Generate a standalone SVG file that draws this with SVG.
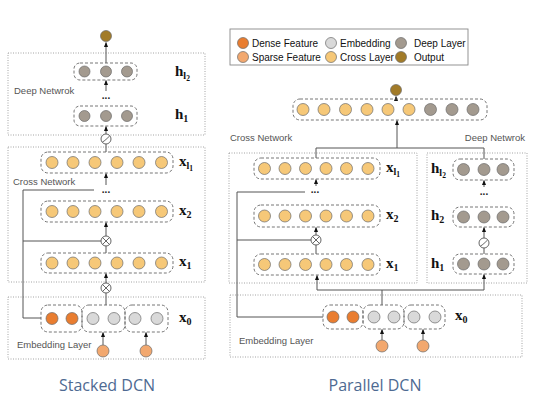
<svg xmlns="http://www.w3.org/2000/svg" width="533" height="401" viewBox="0 0 533 401">
<defs>
<style>
.dot{fill:none;stroke:#9a9a9a;stroke-width:0.9;stroke-dasharray:1 1.5}
.dash{fill:none;stroke:#666;stroke-width:0.9;stroke-dasharray:3 2}
.ln{fill:none;stroke:#555;stroke-width:1}
.ar{fill:none;stroke:#555;stroke-width:1;marker-end:url(#ah)}
.c{stroke:#6a6a6a;stroke-width:0.7}
.dense{fill:#E97D30}
.sparse{fill:#F2A86F}
.emb{fill:#D9D9D9}
.cross{fill:#F6C878}
.deep{fill:#A39A8F}
.out{fill:#A27B28}
.lbl{font-family:"Liberation Sans",Arial,sans-serif;font-size:9.5px;fill:#555}
.leg{font-family:"Liberation Sans",Arial,sans-serif;font-size:10px;fill:#111}
.m{font-family:"Liberation Serif","Times New Roman",serif;font-weight:bold;font-size:15px;fill:#111}
.s{font-size:10px}
.ss{font-size:7.5px}
.ttl{font-family:"Open Sans","Noto Sans",sans-serif;font-size:16px;fill:#4E6A92;text-anchor:middle}
.dots{font-family:"Liberation Sans",Arial,sans-serif;font-size:10px;fill:#222;text-anchor:middle;font-weight:bold}
.op{fill:#fff;stroke:#555;stroke-width:0.9}
</style>
<marker id="ah" viewBox="0 0 6 6" refX="5.5" refY="3" markerWidth="5" markerHeight="5" orient="auto" markerUnits="userSpaceOnUse">
<path d="M0,0.5 L6,3 L0,5.5 Z" fill="#111"/>
</marker>
<g id="otimes"><circle class="op" r="5"/><path d="M-3.5,-3.5 L3.5,3.5 M3.5,-3.5 L-3.5,3.5" stroke="#555" stroke-width="0.9"/></g>
<g id="relu"><circle class="op" r="5"/><path d="M-3.6,3 C-1.5,2.2 1.5,-1 3.6,-3" fill="none" stroke="#555" stroke-width="0.9"/></g>
</defs>

<!-- ===== Stacked DCN ===== -->
<g id="stacked-frames">
<rect class="dot" x="8" y="53" width="197" height="82"/>
<rect class="dot" x="8" y="147" width="197" height="135"/>
<rect class="dot" x="8" y="297" width="197" height="62"/>
<text class="lbl" x="14" y="94">Deep Netwrok</text>
<text class="lbl" x="13" y="185">Cross Network</text>
<text class="lbl" x="17" y="348">Embedding Layer</text>
<text class="ttl" x="107" y="391">Stacked DCN</text>
</g>

<g id="s-connectors">
<line class="ar" x1="106" y1="63" x2="106" y2="42.5"/>
<line class="ar" x1="106" y1="91" x2="106" y2="80.5"/>
<line class="ar" x1="106" y1="134" x2="106" y2="126.5"/>
<line class="ln" x1="106" y1="152" x2="106" y2="144"/>
<line class="ar" x1="106" y1="185" x2="106" y2="173.5"/>
<polyline class="ln" points="94,190 23,190 23,318 41,318"/>
<line class="ln" x1="23" y1="241" x2="101" y2="241"/>
<line class="ar" x1="106" y1="236" x2="106" y2="222.5"/>
<line class="ln" x1="106" y1="253" x2="106" y2="246"/>
<line class="ar" x1="106" y1="283" x2="106" y2="273.5"/>
<line class="ln" x1="106" y1="305" x2="106" y2="293"/>
<line class="ar" x1="103" y1="345" x2="103" y2="332.5"/>
<line class="ar" x1="146" y1="345" x2="146" y2="332.5"/>
<use href="#relu" x="106" y="139"/>
<use href="#otimes" x="106" y="241"/>
<use href="#otimes" x="106" y="288"/>
</g>

<g id="s-output"><circle class="c out" cx="106" cy="36" r="5.5"/></g>

<g id="s-hl2">
<rect class="dash" x="74" y="63" width="63" height="17" rx="6"/>
<circle class="c deep" cx="84.5" cy="71.5" r="5.5"/><circle class="c deep" cx="106" cy="71.5" r="5.5"/><circle class="c deep" cx="127" cy="71.5" r="5.5"/>
<text class="m" x="175" y="76">h<tspan class="s" dy="3">l</tspan><tspan class="ss" dy="2">2</tspan></text>
</g>
<text class="dots" x="106" y="99">...</text>
<g id="s-h1">
<rect class="dash" x="74" y="106" width="63" height="20" rx="6"/>
<circle class="c deep" cx="84.5" cy="116" r="5.5"/><circle class="c deep" cx="106" cy="116" r="5.5"/><circle class="c deep" cx="127" cy="116" r="5.5"/>
<text class="m" x="175" y="119">h<tspan class="s" dy="3">1</tspan></text>
</g>

<g id="s-xl1">
<rect class="dash" x="41" y="152" width="132" height="21" rx="7"/>
<circle class="c cross" cx="52" cy="162.5" r="6"/><circle class="c cross" cx="73" cy="162.5" r="6"/><circle class="c cross" cx="95" cy="162.5" r="6"/><circle class="c cross" cx="117" cy="162.5" r="6"/><circle class="c cross" cx="139" cy="162.5" r="6"/><circle class="c cross" cx="161.5" cy="162.5" r="6"/>
<text class="m" x="179" y="166">x<tspan class="s" dy="3">l</tspan><tspan class="ss" dy="2">1</tspan></text>
</g>
<text class="dots" x="106" y="193">...</text>
<g id="s-x2">
<rect class="dash" x="41" y="201" width="132" height="21" rx="7"/>
<circle class="c cross" cx="52" cy="211.5" r="6"/><circle class="c cross" cx="73" cy="211.5" r="6"/><circle class="c cross" cx="95" cy="211.5" r="6"/><circle class="c cross" cx="117" cy="211.5" r="6"/><circle class="c cross" cx="139" cy="211.5" r="6"/><circle class="c cross" cx="161.5" cy="211.5" r="6"/>
<text class="m" x="179" y="215">x<tspan class="s" dy="3">2</tspan></text>
</g>
<g id="s-x1">
<rect class="dash" x="41" y="253" width="132" height="20" rx="7"/>
<circle class="c cross" cx="52" cy="263" r="6"/><circle class="c cross" cx="73" cy="263" r="6"/><circle class="c cross" cx="95" cy="263" r="6"/><circle class="c cross" cx="117" cy="263" r="6"/><circle class="c cross" cx="139" cy="263" r="6"/><circle class="c cross" cx="161.5" cy="263" r="6"/>
<text class="m" x="179" y="266">x<tspan class="s" dy="3">1</tspan></text>
</g>

<g id="s-x0">
<rect class="dash" x="41" y="305" width="41" height="27" rx="7"/>
<rect class="dash" x="82" y="305" width="43" height="27" rx="7"/>
<rect class="dash" x="125" y="305" width="43" height="27" rx="7"/>
<circle class="c dense" cx="52" cy="318.5" r="6"/><circle class="c dense" cx="72" cy="318.5" r="6"/>
<circle class="c emb" cx="93" cy="318.5" r="6"/><circle class="c emb" cx="114" cy="318.5" r="6"/>
<circle class="c emb" cx="135" cy="318.5" r="6"/><circle class="c emb" cx="157" cy="318.5" r="6"/>
<text class="m" x="179" y="322">x<tspan class="s" dy="3">0</tspan></text>
</g>
<g id="s-sparse">
<circle class="c sparse" cx="103" cy="351" r="6"/><circle class="c sparse" cx="146" cy="351" r="6"/>
</g>

<!-- ===== Legend ===== -->
<g id="legend">
<rect x="230" y="29" width="238" height="36" fill="#fff" stroke="#888" stroke-width="0.9"/>
<circle class="c dense" cx="243" cy="43" r="5.5"/><text class="leg" x="252" y="46.5">Dense Feature</text>
<circle class="c emb" cx="331" cy="43" r="5.5"/><text class="leg" x="340" y="46.5">Embedding</text>
<circle class="c deep" cx="401" cy="43" r="5.5"/><text class="leg" x="414" y="46.5">Deep Layer</text>
<circle class="c sparse" cx="243" cy="57" r="5.5"/><text class="leg" x="252" y="60.5">Sparse Feature</text>
<circle class="c cross" cx="331" cy="57" r="5.5"/><text class="leg" x="340" y="60.5">Cross Layer</text>
<circle class="c out" cx="401" cy="57" r="5.5"/><text class="leg" x="414" y="60.5">Output</text>
</g>

<!-- ===== Parallel DCN ===== -->
<g id="parallel-frames">
<rect class="dot" x="229" y="153" width="188" height="130"/>
<rect class="dot" x="427" y="153" width="100" height="130"/>
<rect class="dot" x="230" y="295" width="292" height="62"/>
<text class="lbl" x="230" y="141">Cross Network</text>
<text class="lbl" x="525" y="141" text-anchor="end">Deep Netwrok</text>
<text class="lbl" x="239" y="344">Embedding Layer</text>
<text class="ttl" x="375" y="391">Parallel DCN</text>
</g>

<g id="p-connectors">
<line class="ar" x1="396" y1="99" x2="396" y2="96.5"/>
<polyline class="ln" points="316,158 316,148 484,148 484,159"/>
<line class="ar" x1="397" y1="148" x2="397" y2="120.5"/>
<line class="ar" x1="316" y1="186" x2="316" y2="179.5"/>
<polyline class="ln" points="305,192 237,192 237,317 323,317"/>
<line class="ln" x1="237" y1="240" x2="311" y2="240"/>
<line class="ar" x1="316" y1="235" x2="316" y2="227.5"/>
<line class="ln" x1="316" y1="254" x2="316" y2="245"/>
<polyline class="ln" points="382,305 382,290"/>
<polyline class="ln" points="317,290 484,290"/>
<line class="ar" x1="317" y1="290" x2="317" y2="275.5"/>
<line class="ar" x1="484" y1="290" x2="484" y2="274.5"/>
<line class="ar" x1="484" y1="187" x2="484" y2="180.5"/>
<line class="ar" x1="484" y1="238" x2="484" y2="227.5"/>
<line class="ln" x1="484" y1="254" x2="484" y2="248"/>
<line class="ar" x1="382" y1="340" x2="382" y2="329.5"/>
<line class="ar" x1="423" y1="340" x2="423" y2="329.5"/>
<use href="#otimes" x="316" y="240"/>
<use href="#relu" x="484" y="243"/>
</g>

<g id="p-output"><circle class="c out" cx="396" cy="90" r="5.5"/></g>

<g id="p-combined">
<rect class="dash" x="293" y="99" width="194" height="21" rx="7"/>
<circle class="c cross" cx="303" cy="109.5" r="6"/><circle class="c cross" cx="324" cy="109.5" r="6"/><circle class="c cross" cx="345.5" cy="109.5" r="6"/><circle class="c cross" cx="367" cy="109.5" r="6"/><circle class="c cross" cx="388" cy="109.5" r="6"/><circle class="c cross" cx="409" cy="109.5" r="6"/>
<circle class="c deep" cx="430.5" cy="109.5" r="6"/><circle class="c deep" cx="452" cy="109.5" r="6"/><circle class="c deep" cx="473" cy="109.5" r="6"/>
</g>

<g id="p-xl1">
<rect class="dash" x="254" y="158" width="126" height="21" rx="7"/>
<circle class="c cross" cx="264.5" cy="168.5" r="6"/><circle class="c cross" cx="285" cy="168.5" r="6"/><circle class="c cross" cx="305.5" cy="168.5" r="6"/><circle class="c cross" cx="326" cy="168.5" r="6"/><circle class="c cross" cx="346.5" cy="168.5" r="6"/><circle class="c cross" cx="368" cy="168.5" r="6"/>
<text class="m" x="386" y="172">x<tspan class="s" dy="3">l</tspan><tspan class="ss" dy="2">1</tspan></text>
</g>
<text class="dots" x="315" y="193">...</text>
<g id="p-x2">
<rect class="dash" x="254" y="205" width="126" height="22" rx="7"/>
<circle class="c cross" cx="264.5" cy="216" r="6"/><circle class="c cross" cx="285" cy="216" r="6"/><circle class="c cross" cx="305.5" cy="216" r="6"/><circle class="c cross" cx="326" cy="216" r="6"/><circle class="c cross" cx="346.5" cy="216" r="6"/><circle class="c cross" cx="368" cy="216" r="6"/>
<text class="m" x="386" y="219">x<tspan class="s" dy="3">2</tspan></text>
</g>
<g id="p-x1">
<rect class="dash" x="254" y="254" width="126" height="21" rx="7"/>
<circle class="c cross" cx="264.5" cy="264.5" r="6"/><circle class="c cross" cx="285" cy="264.5" r="6"/><circle class="c cross" cx="305.5" cy="264.5" r="6"/><circle class="c cross" cx="326" cy="264.5" r="6"/><circle class="c cross" cx="346.5" cy="264.5" r="6"/><circle class="c cross" cx="368" cy="264.5" r="6"/>
<text class="m" x="386" y="268">x<tspan class="s" dy="3">1</tspan></text>
</g>

<g id="p-hl2">
<rect class="dash" x="453" y="159" width="61" height="21" rx="7"/>
<circle class="c deep" cx="463.5" cy="169.5" r="6"/><circle class="c deep" cx="484" cy="169.5" r="6"/><circle class="c deep" cx="503" cy="169.5" r="6"/>
<text class="m" x="431" y="173">h<tspan class="s" dy="3">l</tspan><tspan class="ss" dy="2">2</tspan></text>
</g>
<text class="dots" x="484" y="195">...</text>
<g id="p-h2">
<rect class="dash" x="453" y="207" width="61" height="20" rx="7"/>
<circle class="c deep" cx="463.5" cy="217" r="6"/><circle class="c deep" cx="484" cy="217" r="6"/><circle class="c deep" cx="503" cy="217" r="6"/>
<text class="m" x="431" y="220">h<tspan class="s" dy="3">2</tspan></text>
</g>
<g id="p-h1">
<rect class="dash" x="453" y="254" width="61" height="20" rx="7"/>
<circle class="c deep" cx="463.5" cy="264" r="6"/><circle class="c deep" cx="484" cy="264" r="6"/><circle class="c deep" cx="503" cy="264" r="6"/>
<text class="m" x="431" y="268">h<tspan class="s" dy="3">1</tspan></text>
</g>

<g id="p-x0">
<rect class="dash" x="323" y="305" width="40" height="24" rx="7"/>
<rect class="dash" x="363" y="305" width="41" height="24" rx="7"/>
<rect class="dash" x="404" y="305" width="41" height="24" rx="7"/>
<circle class="c dense" cx="333" cy="317" r="6"/><circle class="c dense" cx="353" cy="317" r="6"/>
<circle class="c emb" cx="374" cy="317" r="6"/><circle class="c emb" cx="394" cy="317" r="6"/>
<circle class="c emb" cx="414" cy="317" r="6"/><circle class="c emb" cx="435" cy="317" r="6"/>
<text class="m" x="455" y="320">x<tspan class="s" dy="3">0</tspan></text>
</g>
<g id="p-sparse">
<circle class="c sparse" cx="382" cy="346" r="6"/><circle class="c sparse" cx="423" cy="346" r="6"/>
</g>
</svg>
